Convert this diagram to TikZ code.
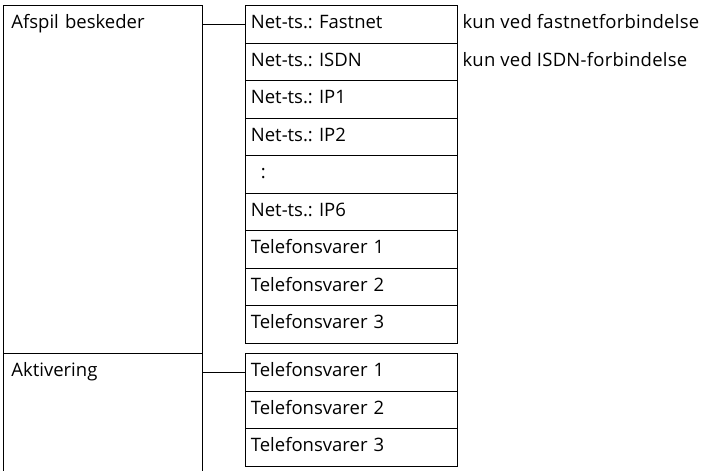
\documentclass[tikz,border=0pt]{standalone}
\usepackage{fontspec}
\setmainfont{Open Sans}
\frenchspacing
\usetikzlibrary{positioning}
\tikzset{font=\fontsize{18.5}{21}\selectfont}
\tikzset{
  menubox/.style={draw, line width=0.8pt, rectangle, anchor=north west,
    inner ysep=0pt, inner xsep=8pt, text width=183pt, align=left,
    text height=23.4pt},
  itembox/.style={draw, line width=0.8pt, rectangle, anchor=north west,
    inner ysep=0pt, inner xsep=6pt, text width=200pt, align=left,
    text height=23.4pt, text depth=14.1pt},
  note/.style={anchor=base west, inner sep=0pt,
    font=\fontsize{18.5}{21}\selectfont\addfontfeature{LetterSpace=1.3}},
}

\begin{document}
\begin{tikzpicture}[x=1pt, y=-1pt]
  \useasboundingbox (0,0) rectangle (702,471);
  % left column
  \node[menubox, text depth=324.6pt] (afspil) at (3,5) {Afspil beskeder};
  \node[menubox, text depth=110pt] (aktiv) at (3,353) {Aktivering};
  % first group of entries
  \foreach \name/\txt [count=\i from 0] in {fastnet/{Net-ts.: Fastnet},
      isdn/{Net-ts.: ISDN}, ipa/{Net-ts.: IP1}, ipb/{Net-ts.: IP2},
      dots/{\hspace*{10pt}:}, ipf/{Net-ts.: IP6}, tsa/{Telefonsvarer 1},
      tsb/{Telefonsvarer 2}, tsc/{Telefonsvarer 3}}
    \node[itembox] (\name) at (244.5,{5+37.5*\i}) {\txt};
  % second group of entries
  \foreach \name/\txt [count=\i from 0] in {akta/{Telefonsvarer 1},
      aktb/{Telefonsvarer 2}, aktc/{Telefonsvarer 3}}
    \node[itembox] (\name) at (244.5,{353+37.5*\i}) {\txt};
  % notes
  \node[note] (fastnetnote) at ([xshift=5pt]fastnet.base east) {kun ved fastnetforbindelse};
  \node[note] (isdnnote) at ([xshift=5pt]isdn.base east) {kun ved ISDN-forbindelse};
  % connectors
  \draw[line width=0.8pt] (afspil.east |- fastnet.west) -- (fastnet.west);
  \draw[line width=0.8pt] (aktiv.east |- akta.west) -- (akta.west);
\end{tikzpicture}
\end{document}
